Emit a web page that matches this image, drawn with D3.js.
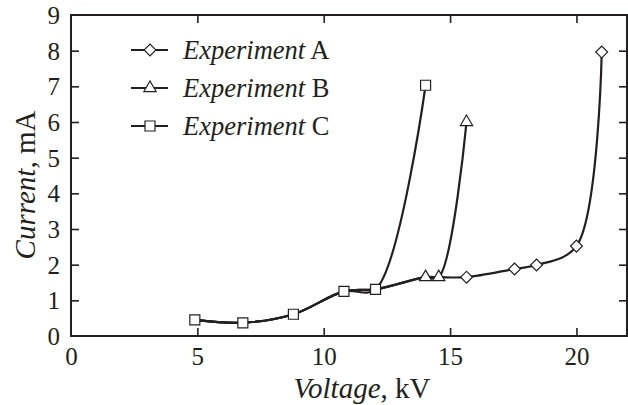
<!DOCTYPE html>
<html>
<head>
<meta charset="utf-8">
<script src="https://cdn.jsdelivr.net/npm/d3@7"></script>
<style>
  body { margin: 0; background: #fff; }
  svg text { font-family: "Liberation Serif", "Times New Roman", Times, serif !important; fill: #231f20; }
</style>
</head>
<body>
<svg id="chart" width="628" height="405"></svg>
<script>
// shared low-voltage run (Experiment C squares)
const baseVoltage = [4.9, 6.8, 8.8, 10.8, 12.05];
const baseCurrent = [0.45, 0.37, 0.61, 1.25, 1.31];

const cVoltage = [14.03];
const cCurrent = [7.03];

const bVoltage = [14.03, 14.55, 15.65];
const bCurrent = [1.65, 1.65, 6.0];

const aVoltage = [15.65, 17.55, 18.42, 20.0, 21.0];
const aCurrent = [1.65, 1.88, 1.99, 2.52, 7.96];

const xTicks = [0, 5, 10, 15, 20];
const yTicks = [0, 1, 2, 3, 4, 5, 6, 7, 8, 9];
const legendNames = ['A', 'B', 'C'];

const zip = (xs, ys) => xs.map((x, i) => [x, ys[i]]);
const base = zip(baseVoltage, baseCurrent);
const ptsB = zip(bVoltage, bCurrent);
const ptsA = zip(aVoltage, aCurrent);
const ptsC = zip(cVoltage, cCurrent);

const series = [
  { name: 'A', shape: 'diamond', line: base.concat(ptsB.slice(0, 2), ptsA), marks: ptsA },
  { name: 'B', shape: 'triangle', line: base.concat(ptsB), marks: ptsB },
  { name: 'C', shape: 'square', line: base.concat(ptsC), marks: base.concat(ptsC) }
];

const ink = '#231f20';
const margin = { top: 15, right: 1, bottom: 69, left: 71 };
const W = 628, H = 405;
const serif = '"Liberation Serif", "Times New Roman", Times, serif';

const svg = d3.select('#chart');
const x = d3.scaleLinear().domain([0, 22]).range([margin.left, W - margin.right]);
const y = d3.scaleLinear().domain([0, 9]).range([H - margin.bottom, margin.top]);

const symbols = {
  diamond: d3.symbol().type(d3.symbolSquare).size(70),
  triangle: d3.symbol().type(d3.symbolTriangle).size(65),
  square: d3.symbol().type(d3.symbolSquare).size(100)
};
const rot = shape => shape === 'diamond' ? ' rotate(45)' : '';

// axes with inward ticks, mirrored on top/right
const tick = 8;
const gx = svg.append('g').attr('transform', `translate(0,${y(0)})`)
  .call(d3.axisBottom(x).tickValues(xTicks).tickSize(-tick).tickPadding(11));
const gxTop = svg.append('g').attr('transform', `translate(0,${y(9)})`)
  .call(d3.axisTop(x).tickValues(xTicks.filter(v => v > 0)).tickSize(-tick).tickFormat(''));
const gy = svg.append('g').attr('transform', `translate(${x(0)},0)`)
  .call(d3.axisLeft(y).tickValues(yTicks).tickSize(-tick).tickPadding(11));
const gyRight = svg.append('g').attr('transform', `translate(${x(22)},0)`)
  .call(d3.axisRight(y).tickValues(yTicks.filter(v => v > 0 && v < 9)).tickSize(-tick).tickFormat(''));

[gx, gxTop, gy, gyRight].forEach(g => {
  g.attr('font-family', serif);
  g.select('.domain').remove();
  g.selectAll('.tick line').attr('stroke', ink).attr('stroke-width', 1.6);
  g.selectAll('.tick text').style('font-size', '25px').attr('fill', ink);
});
gx.selectAll('.tick line').filter(d => d === 0).remove();
gy.selectAll('.tick line').filter(d => d === 0 || d === 9).remove();
gy.selectAll('.tick text').attr('dy', '0.34em');

svg.append('rect')
  .attr('x', x(0)).attr('y', y(9))
  .attr('width', x(22) - x(0)).attr('height', y(0) - y(9))
  .attr('fill', 'none').attr('stroke', ink).attr('stroke-width', 2);

// curves
const line = d3.line().x(d => x(d[0])).y(d => y(d[1])).curve(d3.curveCatmullRom.alpha(0.5));
svg.append('g').selectAll('path').data(series).join('path')
  .attr('d', d => line(d.line))
  .attr('fill', 'none').attr('stroke', ink).attr('stroke-width', 2.2);

// markers
series.forEach(s => {
  svg.append('g').selectAll('path').data(s.marks).join('path')
    .attr('transform', d => `translate(${x(d[0])},${y(d[1])})${rot(s.shape)}`)
    .attr('d', symbols[s.shape]())
    .attr('fill', '#fff').attr('stroke', ink).attr('stroke-width', 1.2);
});

// legend
const legend = svg.append('g');
const rows = legend.selectAll('g').data(series).join('g')
  .attr('transform', (d, i) => `translate(0,${50 + i * 38})`);
rows.append('line').attr('x1', 131).attr('x2', 168)
  .attr('stroke', ink).attr('stroke-width', 2);
rows.append('path')
  .attr('transform', d => `translate(150,0)${rot(d.shape)}`)
  .attr('d', d => symbols[d.shape]())
  .attr('fill', '#fff').attr('stroke', ink).attr('stroke-width', 1.2);
const lt = rows.append('text').attr('x', 183).attr('y', 9)
  .attr('font-family', serif).style('font-size', '26.5px');
lt.append('tspan').style('font-style', 'italic').text('Experiment');
lt.append('tspan').text((d, i) => ' ' + legendNames[i]);

// axis titles
const xt = svg.append('text').attr('x', 362).attr('y', 398)
  .attr('font-family', serif).attr('text-anchor', 'middle').style('font-size', '29px');
xt.append('tspan').style('font-style', 'italic').text('Voltage');
xt.append('tspan').text(', kV');

const yt = svg.append('text')
  .attr('transform', 'translate(35,185) rotate(-90)')
  .attr('font-family', serif).attr('text-anchor', 'middle').style('font-size', '29px');
yt.append('tspan').style('font-style', 'italic').text('Current');
yt.append('tspan').text(', mA');
</script>
</body>
</html>
